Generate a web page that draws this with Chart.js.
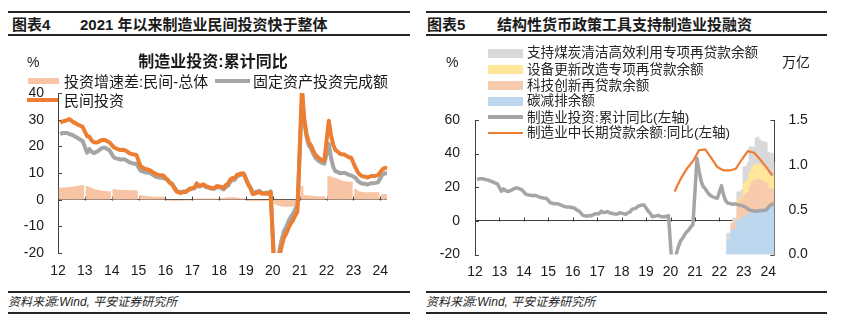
<!DOCTYPE html>
<html>
<head>
<meta charset="utf-8">
<script src="https://cdn.jsdelivr.net/npm/chart.js@4.4.1/dist/chart.umd.min.js"></script>
<style>
  body { margin: 0; width: 843px; height: 332px; background: #fff; position: relative; overflow: hidden;
         font-family: "Liberation Sans", "Noto Sans CJK SC", sans-serif; color: #1a1a1a; }
  .abs { position: absolute; white-space: nowrap; }
  .rule { position: absolute; height: 2px; background: #262626; }
  .hd { font-size: 15px; font-weight: bold; line-height: 18px; }
  .src { font-size: 12px; font-style: italic; line-height: 16px; color: #262626; }
  .lg { font-size: 15px; line-height: 18px; }
  .lg2 { font-size: 13.6px; line-height: 16px; color: #262626; }
  .unit { font-size: 14px; line-height: 16px; }
  canvas { position: absolute; }
</style>
</head>
<body>

<!-- left panel header -->
<div class="rule" style="left:8px;top:11px;width:402px"></div>
<div class="abs hd" style="left:12px;top:16px">图表4</div>
<div class="abs hd" style="left:80px;top:16px">2021 年以来制造业民间投资快于整体</div>
<div class="rule" style="left:8px;top:34px;width:402px"></div>

<!-- right panel header -->
<div class="rule" style="left:426px;top:11px;width:401px"></div>
<div class="abs hd" style="left:427px;top:16px">图表5</div>
<div class="abs hd" style="left:497px;top:16px">结构性货币政策工具支持制造业投融资</div>
<div class="rule" style="left:426px;top:34px;width:401px"></div>

<canvas id="left" width="402" height="250" style="left:8px;top:40px"></canvas>
<canvas id="right" width="401" height="250" style="left:426px;top:40px"></canvas>

<!-- left chart title + legend -->
<div class="abs unit" style="left:27px;top:54px">%</div>
<div class="abs" style="left:113px;top:53px;width:200px;text-align:center;font-size:16px;font-weight:bold;line-height:18px">制造业投资:累计同比</div>
<div class="abs" style="left:28px;top:78px;width:31px;height:6px;background:#F7C5A5"></div>
<div class="abs lg" style="left:64px;top:73px">投资增速差:民间-总体</div>
<div class="abs" style="left:215px;top:79px;width:35px;height:4px;background:#A5A5A5"></div>
<div class="abs lg" style="left:253px;top:73px">固定资产投资完成额</div>
<div class="abs" style="left:27px;top:98px;width:31px;height:4px;background:#ED7D31"></div>
<div class="abs lg" style="left:64px;top:92px">民间投资</div>

<!-- right chart legend -->
<div class="abs unit" style="left:446px;top:54px">%</div>
<div class="abs unit" style="left:782px;top:54px">万亿</div>
<div class="abs" style="left:488px;top:49px;width:35px;height:9px;background:#D9D9D9"></div>
<div class="abs lg2" style="left:527px;top:45px">支持煤炭清洁高效利用专项再贷款余额</div>
<div class="abs" style="left:488px;top:65px;width:35px;height:9px;background:#FFE699"></div>
<div class="abs lg2" style="left:527px;top:62px">设备更新改造专项再贷款余额</div>
<div class="abs" style="left:488px;top:81px;width:35px;height:9px;background:#F8CBAD"></div>
<div class="abs lg2" style="left:527px;top:78px">科技创新再贷款余额</div>
<div class="abs" style="left:488px;top:97px;width:35px;height:9px;background:#BDD7EE"></div>
<div class="abs lg2" style="left:527px;top:93px">碳减排余额</div>
<div class="abs" style="left:488px;top:115px;width:35px;height:4px;background:#A5A5A5"></div>
<div class="abs lg2" style="left:527px;top:110px">制造业投资:累计同比(左轴)</div>
<div class="abs" style="left:488px;top:132px;width:35px;height:2px;background:#ED7D31"></div>
<div class="abs lg2" style="left:527px;top:125px">制造业中长期贷款余额:同比(左轴)</div>

<!-- footers -->
<div class="rule" style="left:8px;top:291px;width:402px"></div>
<div class="abs src" style="left:8px;top:294px">资料来源:Wind, 平安证券研究所</div>
<div class="rule" style="left:8px;top:312px;width:402px"></div>
<div class="rule" style="left:426px;top:291px;width:401px"></div>
<div class="abs src" style="left:426px;top:294px">资料来源:Wind, 平安证券研究所</div>
<div class="rule" style="left:426px;top:312px;width:401px"></div>

<script>
// monthly axis, 2012-01 .. 2024-04 (January has no cumulative figure)
const months = [];
for (let y = 2012; y <= 2024; y++) {
  for (let m = 1; m <= 12; m++) {
    if (y === 2024 && m > 4) break;
    months.push(y + '-' + String(m).padStart(2, '0'));
  }
}

// 制造业投资:累计同比 (%)
const mfgInv = [
  null, 24.5, 25.0, 25.0, 25.0, 24.6, 24.4, 24.0, 23.5, 23.0, 22.5, 22.0,
  null, 17.6, 19.0, 18.0, 17.5, 17.8, 18.3, 19.0, 19.5, 19.5, 19.0, 18.5,
  null, 15.8, 15.5, 15.3, 15.0, 15.2, 15.0, 14.5, 14.0, 13.7, 13.5, 13.5,
  null, 10.8, 10.5, 10.2, 10.2, 10.0, 9.5, 9.0, 8.5, 8.3, 8.2, 8.1,
  null, 7.5, 6.4, 6.0, 4.6, 3.3, 3.0, 2.8, 3.1, 3.1, 3.6, 4.2,
  null, 4.3, 5.8, 4.9, 5.1, 5.5, 4.8, 4.5, 4.2, 4.1, 4.1, 4.8,
  null, 4.3, 3.8, 4.8, 5.2, 6.8, 7.3, 7.5, 8.7, 9.1, 9.5, 9.5,
  null, 5.9, 4.6, 2.5, 2.7, 3.0, 3.3, 2.6, 2.5, 2.6, 2.5, 3.1,
  null, -31.5, -25.2, -18.8, -14.8, -11.7, -10.2, -8.1, -6.5, -5.3, -3.5, -2.2,
  null, 37.3, 29.8, 23.8, 20.4, 19.2, 17.3, 15.7, 14.8, 14.2, 13.7, 13.5,
  null, 20.9, 15.6, 12.2, 10.6, 10.4, 9.9, 10.0, 10.1, 9.7, 9.3, 9.1,
  null, 8.1, 7.0, 6.4, 6.0, 6.0, 5.7, 5.9, 6.2, 6.2, 6.3, 6.5,
  null, 9.4, 9.9, 9.7
];

// 民间投资 (%)
const privateInv = [
  null, 28.8, 29.4, 29.5, 29.8, 30.2, 29.6, 29.0, 28.6, 28.1, 27.7, 27.3,
  null, 23.8, 23.6, 22.2, 21.5, 21.4, 21.6, 22.2, 22.4, 22.4, 21.9, 21.5,
  null, 19.6, 19.2, 18.9, 18.6, 18.7, 18.5, 18.0, 17.4, 17.1, 16.9, 16.8,
  null, 12.4, 12.0, 11.5, 11.4, 11.1, 10.5, 10.0, 9.5, 9.3, 9.2, 9.1,
  null, 7.3, 6.2, 5.7, 4.3, 3.0, 2.7, 2.5, 2.9, 2.9, 3.4, 4.0,
  null, 4.5, 6.1, 5.2, 5.4, 5.8, 5.1, 4.8, 4.5, 4.4, 4.4, 5.1,
  null, 4.8, 4.4, 5.5, 6.0, 7.6, 8.1, 8.2, 9.3, 9.6, 9.9, 9.8,
  null, 5.6, 4.3, 2.1, 2.3, 2.6, 2.9, 2.3, 2.2, 2.3, 2.2, 2.8,
  null, -33.1, -27.2, -21.0, -17.2, -14.2, -12.7, -10.6, -9.0, -7.8, -5.9, -4.6,
  null, 42.3, 30.5, 24.8, 21.6, 20.4, 18.5, 16.9, 16.0, 15.3, 14.8, 14.6,
  null, 29.6, 24.1, 20.5, 18.6, 18.0, 17.2, 17.0, 16.9, 16.4, 15.9, 15.7,
  null, 11.9, 10.2, 9.3, 8.8, 8.7, 8.3, 8.5, 8.9, 8.9, 9.0, 9.2,
  null, 11.4, 11.9, 11.6
];

// 投资增速差:民间-总体 (pct)
const invGap = [
  null, 4.3, 4.4, 4.5, 4.5, 4.6, 4.7, 4.8, 5.0, 5.1, 5.2, 5.3,
  null, 5.0, 4.6, 4.2, 4.0, 3.6, 3.5, 3.4, 3.2, 3.1, 3.0, 3.0,
  null, 3.8, 3.7, 3.6, 3.6, 3.5, 3.5, 3.5, 3.4, 3.4, 3.4, 3.3,
  null, 1.6, 1.5, 1.3, 1.2, 1.1, 1.0, 1.0, 1.0, 1.0, 1.0, 1.0,
  null, -0.2, -0.2, -0.3, -0.3, -0.3, -0.3, -0.3, -0.2, -0.2, -0.2, -0.2,
  null, 0.2, 0.3, 0.3, 0.3, 0.3, 0.3, 0.3, 0.3, 0.3, 0.3, 0.3,
  null, 0.5, 0.6, 0.7, 0.8, 0.8, 0.8, 0.7, 0.6, 0.5, 0.4, 0.3,
  null, -0.3, -0.3, -0.4, -0.4, -0.4, -0.4, -0.3, -0.3, -0.3, -0.3, -0.3,
  null, -1.6, -2.0, -2.2, -2.4, -2.5, -2.5, -2.5, -2.5, -2.5, -2.4, -2.4,
  null, 5.0, 1.5, 1.6, 1.5, 1.4, 1.3, 1.2, 1.2, 1.1, 1.1, 1.1,
  null, 8.7, 8.5, 8.3, 8.0, 7.6, 7.3, 7.0, 6.8, 6.7, 6.6, 6.6,
  null, 3.8, 3.2, 2.9, 2.8, 2.7, 2.6, 2.6, 2.7, 2.7, 2.7, 2.7,
  null, 2.0, 2.0, 1.9
];

// 制造业中长期贷款余额:同比 (%), quarterly
const loanMonths = ['2020-03', '2020-06', '2020-09', '2020-12', '2021-03', '2021-06', '2021-09', '2021-12',
                    '2022-03', '2022-06', '2022-09', '2022-12', '2023-03', '2023-06', '2023-09', '2023-12', '2024-03'];
const loanYoY = [17.5, 25.0, 31.0, 35.5, 42.0, 42.5, 37.5, 32.0,
                 30.0, 30.0, 31.0, 36.5, 41.5, 40.5, 36.5, 32.0, 27.0];

// relending tool balances (万亿)
const toolMonths = ['2022-05', '2022-06', '2022-07', '2022-08', '2022-09', '2022-10', '2022-11', '2022-12',
                    '2023-01', '2023-02', '2023-03', '2023-04', '2023-05', '2023-06', '2023-07', '2023-08',
                    '2023-09', '2023-10', '2023-11', '2023-12', '2024-01', '2024-02', '2024-03', '2024-04'];
const carbonBal = [0.15, 0.16, 0.26, 0.28, 0.29, 0.38, 0.39, 0.40, 0.43, 0.43, 0.44, 0.46,
                   0.47, 0.48, 0.48, 0.49, 0.49, 0.50, 0.51, 0.52, 0.52, 0.52, 0.53, 0.53];
const techBal = [0, 0, 0.05, 0.07, 0.07, 0.20, 0.21, 0.22, 0.23, 0.24, 0.25, 0.30,
                 0.33, 0.35, 0.35, 0.35, 0.34, 0.32, 0.30, 0.28, 0.22, 0.21, 0.20, 0.20];
const equipBal = [0, 0, 0, 0, 0, 0.02, 0.02, 0.03, 0.14, 0.14, 0.15, 0.15,
                  0.17, 0.17, 0.17, 0.17, 0.17, 0.17, 0.17, 0.17, 0.15, 0.15, 0.15, 0.14];
const coalBal = [0.09, 0.08, 0.04, 0.06, 0.05, 0.10, 0.08, 0.07, 0.18, 0.17, 0.18, 0.29,
                 0.23, 0.20, 0.30, 0.30, 0.28, 0.27, 0.28, 0.28, 0.25, 0.25, 0.25, 0.16];

Chart.defaults.font.family = '"Liberation Sans", "Noto Sans CJK SC", sans-serif';
Chart.defaults.color = '#1a1a1a';

const tickFont = { size: 14 };
const axisColor = '#404040';

function yearLabel(v) {
  const l = this.getLabelForValue(v);
  return l.endsWith('-01') ? l.slice(2, 4) : null;
}

// small inward tick marks: years on the zero line, values on the y axes
const axisMarks = {
  id: 'axisMarks',
  beforeDatasetsDraw(chart) {
    const { ctx, chartArea } = chart;
    const xs = chart.scales.x;
    const y0 = Math.round(chart.scales.y.getPixelForValue(0)) + 0.5;
    ctx.save();
    ctx.strokeStyle = axisColor;
    ctx.lineWidth = 1;
    ctx.beginPath();
    months.forEach((l, i) => {
      if (i > 0 && l.endsWith('-01')) {
        const x = Math.round(xs.getPixelForValue(i)) + 0.5;
        ctx.moveTo(x, y0);
        ctx.lineTo(x, y0 - 4);
      }
    });
    ['y', 'y1'].forEach(id => {
      const s = chart.scales[id];
      if (!s) return;
      const right = s.position === 'right';
      const ax = right ? chartArea.right : chartArea.left;
      s.ticks.forEach(t => {
        const y = Math.round(s.getPixelForValue(t.value)) + 0.5;
        ctx.moveTo(ax, y);
        ctx.lineTo(ax + (right ? -4 : 4), y);
      });
    });
    ctx.stroke();
    ctx.restore();
  }
};

function xAxis(height, pad) {
  return {
    offset: false,
    stacked: true,
    grid: { display: false, drawTicks: false },
    border: { display: false },
    ticks: { autoSkip: false, maxRotation: 0, minRotation: 0, padding: pad, font: tickFont, callback: yearLabel },
    afterFit: s => { s.height = height; }
  };
}

function zeroGrid(ctx) {
  return ctx.tick && ctx.tick.value === 0 ? axisColor : 'rgba(0,0,0,0)';
}

new Chart('left', {
  type: 'bar',
  data: {
    labels: months,
    datasets: [
      { type: 'line', label: '民间投资', data: privateInv, borderColor: '#ED7D31', borderWidth: 4,
        pointRadius: 0, spanGaps: true, borderJoinStyle: 'round', order: 1 },
      { type: 'line', label: '固定资产投资完成额', data: mfgInv, borderColor: '#A5A5A5', borderWidth: 4,
        pointRadius: 0, spanGaps: true, borderJoinStyle: 'round', order: 2 },
      { label: '投资增速差:民间-总体', data: invGap, backgroundColor: '#F7C5A5',
        barPercentage: 1, categoryPercentage: 1, order: 3 }
    ]
  },
  options: {
    responsive: false,
    animation: false,
    devicePixelRatio: 1,
    layout: { padding: { top: 53, right: 23, left: 0, bottom: 0 } },
    plugins: { legend: { display: false }, tooltip: { enabled: false } },
    scales: {
      x: xAxis(37, 10),
      y: {
        min: -20, max: 40,
        ticks: { stepSize: 10, padding: 14, font: tickFont },
        grid: { color: zeroGrid, drawTicks: false },
        border: { display: true, color: axisColor },
        afterFit: s => { s.width = 50; }
      }
    }
  },
  plugins: [axisMarks]
});

const pts = (xs, ys) => xs.map((x, i) => ({ x: x, y: ys[i] }));
const toolBar = (label, vals, color) => ({
  label: label, data: pts(toolMonths, vals), backgroundColor: color, yAxisID: 'y1',
  barPercentage: 1, categoryPercentage: 1, order: 3
});

new Chart('right', {
  type: 'bar',
  data: {
    labels: months,
    datasets: [
      { type: 'line', label: '制造业中长期贷款余额:同比(左轴)', data: pts(loanMonths, loanYoY),
        borderColor: '#ED7D31', borderWidth: 2.2, pointRadius: 0, spanGaps: true, yAxisID: 'y', order: 1 },
      { type: 'line', label: '制造业投资:累计同比(左轴)', data: mfgInv, borderColor: '#A5A5A5', borderWidth: 3.5,
        pointRadius: 0, spanGaps: true, borderJoinStyle: 'round', yAxisID: 'y', order: 2 },
      toolBar('碳减排余额', carbonBal, '#BDD7EE'),
      toolBar('科技创新再贷款余额', techBal, '#F8CBAD'),
      toolBar('设备更新改造专项再贷款余额', equipBal, '#FFE699'),
      toolBar('支持煤炭清洁高效利用专项再贷款余额', coalBal, '#D9D9D9')
    ]
  },
  options: {
    responsive: false,
    animation: false,
    devicePixelRatio: 1,
    layout: { padding: { top: 80, right: 0, left: 0, bottom: 0 } },
    plugins: { legend: { display: false }, tooltip: { enabled: false } },
    scales: {
      x: xAxis(35.5, 9),
      y: {
        position: 'left', min: -20, max: 60,
        ticks: { stepSize: 20, padding: 15, font: tickFont },
        grid: { color: zeroGrid, drawTicks: false },
        border: { display: true, color: axisColor },
        afterFit: s => { s.width = 49; }
      },
      y1: {
        position: 'right', min: 0, max: 1.5, stacked: true,
        ticks: { stepSize: 0.5, padding: 14, font: tickFont, callback: v => v.toFixed(1) },
        grid: { display: false, drawTicks: false },
        border: { display: true, color: axisColor },
        afterFit: s => { s.width = 52.6; }
      }
    }
  },
  plugins: [axisMarks]
});
</script>
</body>
</html>
